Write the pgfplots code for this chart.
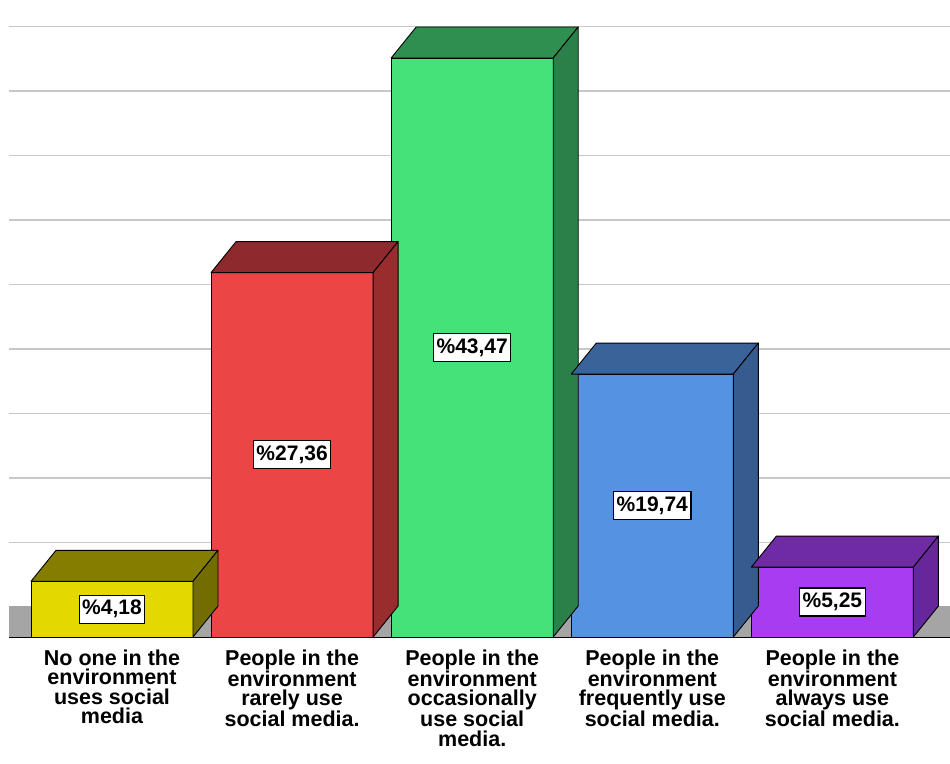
\documentclass[border=0pt]{standalone}
\usepackage{pgfplots}
\pgfplotsset{compat=1.18}
\usepackage{fontspec}
\setmainfont{Liberation Sans}

% front / top / side shades of each box
\definecolor{yelF}{HTML}{E3D800}
\definecolor{yelT}{HTML}{857D00}
\definecolor{yelS}{HTML}{736C00}
\definecolor{redF}{HTML}{EB4545}
\definecolor{redT}{HTML}{8E2A2E}
\definecolor{redS}{HTML}{992C2C}
\definecolor{grnF}{HTML}{45E27A}
\definecolor{grnT}{HTML}{2E8F50}
\definecolor{grnS}{HTML}{2A8048}
\definecolor{bluF}{HTML}{5592E0}
\definecolor{bluT}{HTML}{3A6399}
\definecolor{bluS}{HTML}{355B8F}
\definecolor{purF}{HTML}{A83CF0}
\definecolor{purT}{HTML}{6E2BA3}
\definecolor{purS}{HTML}{65279A}
\definecolor{gridgray}{HTML}{C8C8C8}
\definecolor{floorgray}{HTML}{A5A5A5}

\pgfplotsset{
  % top and right faces of a box, drawn around the data point (top centre of the front face)
  box faces/.style 2 args={
    scatter, only marks, mark=*, mark size=0pt,
    visualization depends on={y \as \barval},
    scatter/@pre marker code/.code={%
      \pgfmathsetmacro\barb{31-\barval*13.32}%
      \pgfmathsetmacro\barh{-\barval*13.32}%
      \filldraw[fill=#1, draw=black, line width=0.9pt, line join=round]
        (-81pt,0pt) -- (-56pt,31pt) -- (106pt,31pt) -- (81pt,0pt) -- cycle;
      \filldraw[fill=#2, draw=black, line width=0.9pt, line join=round]
        (81pt,0pt) -- (106pt,31pt) -- (106pt,\barb pt) -- (81pt,\barh pt) -- cycle;
    },
    scatter/@post marker code/.code={},
  },
  % front face of a box with its value label in the middle
  box front/.style={
    ybar, bar width=162pt, bar shift=0pt,
    fill=#1, draw=black, line width=0.9pt,
    visualization depends on={y \as \barval},
    nodes near coords={\%\pgfmathprintnumber[assume math mode=true,fixed,fixed zerofill,precision=2,use comma]{\pgfplotspointmeta}},
    nodes near coords style={anchor=center, yshift={-\barval*6.66pt},
      fill=white, draw=black, line width=1.2pt, text=black,
      inner xsep=3pt, inner ysep=5pt,
      font=\bfseries\fontsize{21}{24}\selectfont},
  },
}

\begin{document}
\begin{tikzpicture}
\useasboundingbox (-9pt,-126pt) rectangle (941pt,637pt);
\begin{axis}[
  at={(0pt,0pt)}, anchor=south west,
  x=180.1pt, y=13.32pt,
  xmin=-0.5719, xmax=4.653, ymin=0, ymax=47.82,
  enlargelimits=false,
  point meta min=0, point meta max=50,
  axis line style={draw=none},
  major tick length=0pt,
  ytick={7.1,11.94,16.78,21.62,26.46,31.30,36.14,40.98,45.82},
  yticklabels={},
  ymajorgrids,
  grid style={draw=gridgray, line width=1.4pt},
  xtick={0,1,2,3,4},
  xticklabels={
    {No one in the\\environment\\uses social\\media},
    {People in the\\environment\\rarely use\\social media.},
    {People in the\\environment\\occasionally\\use social\\media.},
    {People in the\\environment\\frequently use\\social media.},
    {People in the\\environment\\always use\\social media.}},
  xticklabel style={align=center, font=\bfseries\fontsize{21.5}{19.6}\selectfont, yshift=-9pt},
  clip=false,
]
% floor of the box chart
\fill[floorgray] (axis cs:-0.5719,0) rectangle (axis cs:4.653,2.3);
\draw[black, line width=1pt] (axis cs:-0.5719,0) -- (axis cs:4.653,0);

\addplot[box faces={yelT}{yelS}] coordinates {(0,4.18)};
\addplot[box front=yelF] coordinates {(0,4.18)};

\addplot[box faces={redT}{redS}] coordinates {(1,27.36)};
\addplot[box front=redF] coordinates {(1,27.36)};

\addplot[box faces={grnT}{grnS}] coordinates {(2,43.47)};
\addplot[box front=grnF] coordinates {(2,43.47)};

\addplot[box faces={bluT}{bluS}] coordinates {(3,19.74)};
\addplot[box front=bluF] coordinates {(3,19.74)};

\addplot[box faces={purT}{purS}] coordinates {(4,5.25)};
\addplot[box front=purF] coordinates {(4,5.25)};
\end{axis}
\end{tikzpicture}
\end{document}
